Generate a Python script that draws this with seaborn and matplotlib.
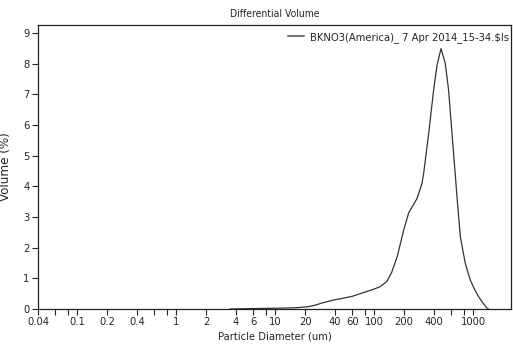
import pandas as pd
import matplotlib
import matplotlib.pyplot as plt
from matplotlib import font_manager
import seaborn as sns

sns.set_style("ticks")

# the instrument software uses a narrow sans font; take a condensed one if installed
narrow = [f for f in font_manager.fontManager.ttflist
          if f.stretch in ("condensed", "semi-condensed") and f.style == "normal"
          and f.weight in (400, "normal", "regular")]
if narrow:
    plt.rcParams["font.family"] = [narrow[0].name, "DejaVu Sans"]
    plt.rcParams["font.stretch"] = narrow[0].stretch
else:
    plt.rcParams["font.family"] = ["Liberation Sans", "DejaVu Sans"]

diameter = [3.5, 5, 8, 12, 16, 21, 25, 30, 38.5, 50, 61, 75, 98, 115, 134, 150, 170, 198,
            222, 245, 270, 303, 315, 354, 397, 430, 472, 521, 563, 609, 658, 684, 739, 829,
            933, 1030, 1132, 1260, 1375, 1420]
volume = [0.0, 0.01, 0.02, 0.03, 0.04, 0.07, 0.12, 0.2, 0.29, 0.36, 0.42, 0.52, 0.64, 0.73,
          0.9, 1.2, 1.7, 2.57, 3.13, 3.37, 3.6, 4.1, 4.42, 5.72, 7.13, 7.95, 8.49, 8.0, 7.13,
          5.72, 4.36, 3.66, 2.36, 1.49, 0.94, 0.64, 0.4, 0.18, 0.03, 0.0]
series_name = "BKNO3(America)_ 7 Apr 2014_15-34.$ls"

major_ticks = [0.04, 0.1, 0.2, 0.4, 1, 2, 4, 6, 10, 20, 40, 60, 100, 200, 400, 1000]
minor_ticks = [0.06, 0.08, 0.6, 0.8, 8, 80, 600, 800]

df = pd.DataFrame({"diameter": diameter, "volume": volume, "sample": series_name})

fig = plt.figure(figsize=(5.13, 3.57), dpi=100)
ax = fig.add_axes([0.074, 0.1345, 0.922, 0.7955])

sns.lineplot(data=df, x="diameter", y="volume", hue="sample", palette=["#333333"],
             linewidth=0.9, ax=ax)

ax.set_xscale("log")
ax.set_xlim(0.04, 2400)
ax.set_ylim(0, 9.26)
ax.set_xticks(major_ticks)
ax.set_xticklabels([f"{t:g}" for t in major_ticks])
ax.set_xticks(minor_ticks, minor=True)
ax.xaxis.set_minor_formatter(matplotlib.ticker.NullFormatter())
ax.set_yticks(range(0, 10))
ax.tick_params(axis="both", which="major", length=4, width=0.8, labelsize=8, pad=2)
ax.tick_params(axis="x", which="minor", length=4, width=0.8)

for s in ax.spines.values():
    s.set_linewidth(0.9)
    s.set_color("#222222")

ax.set_xlabel("Particle Diameter (um)", fontsize=8, labelpad=3)
ax.set_ylabel("Volume (%)", fontsize=9.5, labelpad=8)
ax.set_title("Differential Volume", fontsize=7.5, pad=6)

leg = ax.legend(loc="upper right", bbox_to_anchor=(1.01, 1.0), frameon=False, fontsize=8,
                handlelength=1.5, handletextpad=0.5, borderaxespad=0.2)
leg.get_lines()[0].set_color("#777777")
leg.get_lines()[0].set_linewidth(1.5)

fig.savefig("out.png", dpi=100)
